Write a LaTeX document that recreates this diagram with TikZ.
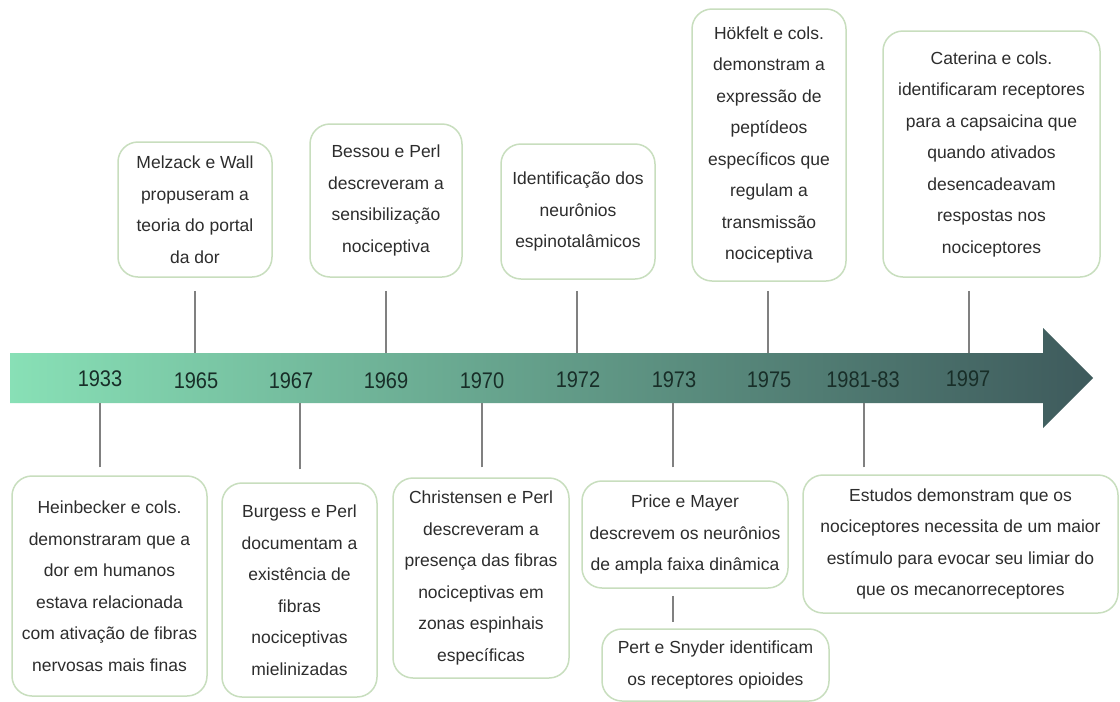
\documentclass[tikz,border=0pt]{standalone}
\usepackage{fontspec}
\setmainfont{Liberation Sans}
\definecolor{arrowL}{RGB}{136,224,182}
\definecolor{arrowR}{RGB}{62,90,92}
\definecolor{boxgreen}{RGB}{200,222,190}
\definecolor{txtgray}{RGB}{45,45,45}
\definecolor{yeartxt}{RGB}{24,46,40}
\definecolor{conngray}{RGB}{128,128,128}
\newcommand{\yr}[1]{\scalebox{1}[1.13]{#1}}
\tikzset{
  evbox/.style={draw=boxgreen, line width=1.5pt, rounded corners=20pt, fill=white,
    text=txtgray, align=center, inner sep=0pt,
    font=\fontsize{17.5}{31.5}\selectfont},
  yearlbl/.style={text=yeartxt, font=\fontsize{20}{24}\selectfont, inner sep=0pt},
  conn/.style={draw=conngray, line width=1.2pt},
}
\begin{document}
\begin{tikzpicture}[x=1pt,y=-1pt]
\useasboundingbox (0,0) rectangle (1120,702);
\fill[white] (0,0) rectangle (1120,702);
% arrow
\shade[left color=arrowL, right color=arrowR]
  (10,353) -- (1043,353) -- (1043,328) -- (1093,378) -- (1043,428) -- (1043,403) -- (10,403) -- cycle;
% years
\node[yearlbl] (y1933) at (100,379) {\yr{1933}};
\node[yearlbl] (y1965) at (196,381) {\yr{1965}};
\node[yearlbl] (y1967) at (291,381) {\yr{1967}};
\node[yearlbl] (y1969) at (386,381) {\yr{1969}};
\node[yearlbl] (y1970) at (482,381) {\yr{1970}};
\node[yearlbl] (y1972) at (578,380) {\yr{1972}};
\node[yearlbl] (y1973) at (674,380) {\yr{1973}};
\node[yearlbl] (y1975) at (769,380) {\yr{1975}};
\node[yearlbl] (y1981) at (863,380) {\yr{1981-83}};
\node[yearlbl] (y1997) at (968,379) {\yr{1997}};
% anchor coordinates on the arrow edges
\coordinate (t1965) at (195,353);
\coordinate (t1969) at (386,353);
\coordinate (t1972) at (577,353);
\coordinate (t1975) at (768,353);
\coordinate (t1997) at (969,353);
\coordinate (b1933) at (100,403);
\coordinate (b1967) at (300,403);
\coordinate (b1970) at (482,403);
\coordinate (b1973) at (673,403);
\coordinate (b1981) at (864,403);
% top boxes
\node[evbox, minimum width=154pt, minimum height=135pt] (melzack) at (195,209.5)
  {Melzack e Wall\\propuseram a\\teoria do portal\\da dor};
\node[evbox, minimum width=152pt, minimum height=153pt] (bessou) at (386,200.5)
  {Bessou e Perl\\descreveram a\\sensibilização\\nociceptiva};
\node[evbox, minimum width=154pt, minimum height=135pt] (ident) at (578,211.5)
  {Identificação dos\\neurônios\\espinotalâmicos};
\node[evbox, minimum width=154pt, minimum height=272pt] (hokfelt) at (769,145)
  {Hökfelt e cols.\\demonstram a\\expressão de\\peptídeos\\específicos que\\regulam a\\transmissão\\nociceptiva};
\node[evbox, minimum width=217pt, minimum height=246pt] (caterina) at (991.5,154)
  {Caterina e cols.\\identificaram receptores\\para a capsaicina que\\quando ativados\\desencadeavam\\respostas nos\\nociceptores};
% bottom boxes
\node[evbox, minimum width=195pt, minimum height=220pt] (heinbecker) at (109.5,586)
  {Heinbecker e cols.\\demonstraram que a\\dor em humanos\\estava relacionada\\com ativação de fibras\\nervosas mais finas};
\node[evbox, minimum width=155pt, minimum height=214pt] (burgess) at (299.5,590)
  {Burgess e Perl\\documentam a\\existência de\\fibras\\nociceptivas\\mielinizadas};
\node[evbox, minimum width=176pt, minimum height=200pt] (christensen) at (481,578)
  {Christensen e Perl\\descreveram a\\presença das fibras\\nociceptivas em\\zonas espinhais\\específicas};
\node[evbox, minimum width=206pt, minimum height=107pt] (price) at (685,534.5)
  {Price e Mayer\\descrevem os neurônios\\de ampla faixa dinâmica};
\node[evbox, minimum width=227pt, minimum height=72pt] (pert) at (715.5,665)
  {Pert e Snyder identificam\\os receptores opioides};
\node[evbox, minimum width=315pt, minimum height=138pt] (estudos) at (960.5,544)
  {Estudos demonstram que os\\nociceptores necessita de um maior\\estímulo para evocar seu limiar do\\que os mecanorreceptores};
% connectors
\draw[conn, shorten <=13pt] (melzack.south -| t1965) -- (t1965);
\draw[conn, shorten <=13pt] (bessou.south -| t1969) -- (t1969);
\draw[conn, shorten <=11pt] (ident.south -| t1972) -- (t1972);
\draw[conn, shorten <=9pt] (hokfelt.south -| t1975) -- (t1975);
\draw[conn, shorten <=13pt] (caterina.south -| t1997) -- (t1997);
\draw[conn, shorten <=8pt] (heinbecker.north -| b1933) -- (b1933);
\draw[conn, shorten <=13pt] (burgess.north -| b1967) -- (b1967);
\draw[conn, shorten <=10pt] (christensen.north -| b1970) -- (b1970);
\draw[conn, shorten <=13pt] (price.north -| b1973) -- (b1973);
\draw[conn, shorten <=7pt] (estudos.north -| b1981) -- (b1981);
\draw[conn, shorten <=7pt, shorten >=6pt] (price.south -| b1973) -- (pert.north -| b1973);
\end{tikzpicture}
\end{document}
